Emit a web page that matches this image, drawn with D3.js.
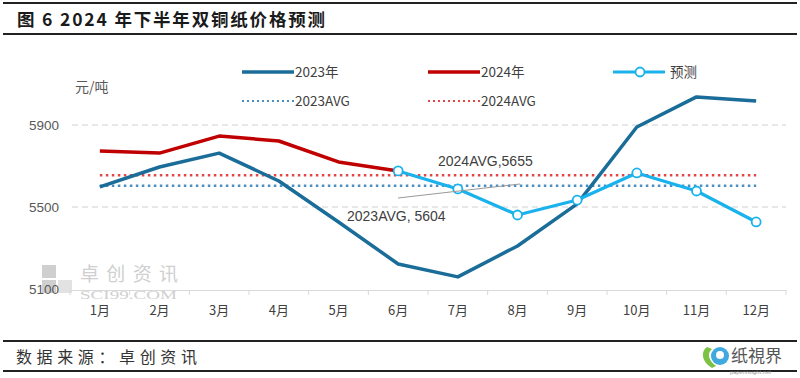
<!DOCTYPE html>
<html><head><meta charset="utf-8">
<script src="https://cdn.jsdelivr.net/npm/d3@7"></script>
<style>
html,body{margin:0;padding:0;background:#fff;}
svg{display:block;}
</style></head>
<body>
<svg id="c" width="800" height="378"></svg>
<script>
const months = ["1月","2月","3月","4月","5月","6月","7月","8月","9月","10月","11月","12月"];
const s2023 = [5598,5695,5763,5627,5427,5222,5159,5310,5515,5890,6037,6017];
const s2024 = [5773,5763,5846,5822,5720,5676,null,null,null,null,null,null];
const sForecast = [null,null,null,null,null,5676,5588,5461,5534,5666,5578,5427];
const avg2023 = 5604;
const avg2024 = 5655;
const yTicks = [5100,5500,5900];
const gridTicks = [5500,5900];

const svg = d3.select("#c");
const CJK = "'Noto Sans CJK SC','Noto Sans',sans-serif";
const x = d3.scaleBand().domain(months).range([70,786]);
const cx = m => x(m) + x.bandwidth()/2;
const y = d3.scaleLinear().domain([5100,5900]).range([289,125]);

// frame lines
svg.append("line").attr("x1",3).attr("x2",797).attr("y1",3).attr("y2",3).attr("stroke","#222").attr("stroke-width",2);
svg.append("line").attr("x1",3).attr("x2",797).attr("y1",34).attr("y2",34).attr("stroke","#222").attr("stroke-width",2);
svg.append("line").attr("x1",3).attr("x2",797).attr("y1",341).attr("y2",341).attr("stroke","#222").attr("stroke-width",2);
svg.append("line").attr("x1",3).attr("x2",797).attr("y1",371).attr("y2",371).attr("stroke","#222").attr("stroke-width",2);

svg.append("text").attr("x",17).attr("y",26).attr("font-family",CJK).attr("font-weight","bold")
  .attr("font-size",17.5).attr("fill","#1a1a1a").attr("textLength",308).attr("lengthAdjust","spacing")
  .text("图 6 2024 年下半年双铜纸价格预测");
svg.append("text").attr("x",16).attr("y",363).attr("font-family",CJK)
  .attr("font-size",16).attr("fill","#333").attr("textLength",181).attr("lengthAdjust","spacing").text("数据来源：卓创资讯");

// footer logo
const lg = svg.append("g");
lg.append("path").attr("d","M707,347 C700,352 702,362 712,368 L716,366 C708,360 707,353 712,349 Z").attr("fill","#7cc242");
lg.append("circle").attr("cx",720).attr("cy",356).attr("r",9).attr("fill","#3fa9e0");
lg.append("circle").attr("cx",720).attr("cy",355).attr("r",4).attr("fill","#fff");
lg.append("text").attr("x",731).attr("y",362).attr("font-family",CJK).attr("font-size",17).attr("fill","#555").text("纸視界");
lg.append("text").attr("x",730).attr("y",374).attr("font-family","'DejaVu Sans',sans-serif").attr("font-size",5).attr("fill","#888").text("paperinsight.net");

// watermark
const wm = svg.append("g");
wm.append("rect").attr("x",42).attr("y",265).attr("width",14).attr("height",13).attr("fill","#cfcfcf");
wm.append("rect").attr("x",42).attr("y",280).attr("width",14).attr("height",13).attr("fill","#cfcfcf");
wm.append("rect").attr("x",58).attr("y",280).attr("width",14).attr("height",13).attr("fill","#e2e2e2");
wm.append("text").attr("x",80).attr("y",281).attr("font-family",CJK).attr("font-size",19).attr("fill","#d0d0d0")
  .attr("textLength",98).attr("lengthAdjust","spacing").text("卓创资讯");
wm.append("text").attr("x",80).attr("y",299).attr("font-family","'Liberation Serif',serif").attr("font-size",11.5).attr("fill","#d0d0d0")
  .attr("textLength",97).attr("lengthAdjust","spacingAndGlyphs").text("SCI99.COM");

// grid
svg.append("g").selectAll("line").data(gridTicks).join("line")
  .attr("x1",72).attr("x2",786).attr("y1",d=>y(d)).attr("y2",d=>y(d))
  .attr("stroke","#d0d0d0").attr("stroke-width",1).attr("stroke-dasharray","6,4");

// y labels
svg.append("g").selectAll("text").data(yTicks).join("text")
  .attr("x",59).attr("y",d=>y(d)+5).attr("text-anchor","end")
  .attr("font-family","'Liberation Sans',sans-serif").attr("font-size",13.5).attr("fill","#595959").text(d=>d);
svg.append("text").attr("x",75).attr("y",92).attr("font-family",CJK).attr("font-size",14).attr("fill","#595959").text("元/吨");

// x axis
const xAxis = d3.axisBottom(x).tickSizeOuter(0).tickSizeInner(0).tickPadding(16);
const gx = svg.append("g").attr("transform","translate(0,290)").call(xAxis);
gx.select(".domain").attr("stroke","#d9d9d9");
gx.selectAll("text").attr("font-family",CJK).attr("font-size",13).attr("fill","#404040");
const bounds = months.map(m=>x(m)).concat([x(months[11])+x.bandwidth()]);
gx.selectAll(".bt").data(bounds).join("line").attr("class","bt")
  .attr("x1",d=>d).attr("x2",d=>d).attr("y1",0).attr("y2",5).attr("stroke","#d9d9d9");

// avg lines
const avgLine = (v,col) => svg.append("line").attr("x1",cx(months[0])).attr("x2",cx(months[11]))
  .attr("y1",y(v)).attr("y2",y(v)).attr("stroke",col).attr("stroke-width",2.5).attr("stroke-dasharray","2.5,3.5");
avgLine(avg2024,"#e04848");
avgLine(avg2023,"#4a8fc2");

const line = d3.line().defined(d=>d.v!=null).x(d=>cx(d.m)).y(d=>y(d.v));
const mk = arr => months.map((m,i)=>({m,v:arr[i]}));

svg.append("path").datum(mk(s2023)).attr("d",line).attr("fill","none").attr("stroke","#1b6d99").attr("stroke-width",3.5).attr("stroke-linejoin","round");
svg.append("path").datum(mk(s2024)).attr("d",line).attr("fill","none").attr("stroke","#c00000").attr("stroke-width",3.5).attr("stroke-linejoin","round");
svg.append("path").datum(mk(sForecast)).attr("d",line).attr("fill","none").attr("stroke","#1ab2ec").attr("stroke-width",3.2).attr("stroke-linejoin","round");
svg.append("g").selectAll("circle").data(mk(sForecast).filter(d=>d.v!=null)).join("circle")
  .attr("cx",d=>cx(d.m)).attr("cy",d=>y(d.v)).attr("r",4.5).attr("fill","#fff").attr("stroke","#1ab2ec").attr("stroke-width",1.8);

// annotations
svg.append("line").attr("x1",398).attr("y1",198).attr("x2",520).attr("y2",184).attr("stroke","#999").attr("stroke-width",1);
svg.append("text").attr("x",438).attr("y",166).attr("font-family","'Liberation Sans',sans-serif").attr("font-size",14).attr("fill","#404040").text("2024AVG,"+avg2024);
svg.append("text").attr("x",347).attr("y",221).attr("font-family","'Liberation Sans',sans-serif").attr("font-size",14).attr("fill","#404040").text("2023AVG, "+avg2023);

// legend
const leg = [
  {label:"2023年", x:242, y:72, col:"#1b6d99", dash:null, w:3.5},
  {label:"2024年", x:428, y:72, col:"#c00000", dash:null, w:3.5},
  {label:"预测", x:613, y:72, col:"#1ab2ec", dash:null, w:3.2, marker:true},
  {label:"2023AVG", x:242, y:101, col:"#4a8fc2", dash:"2,3", w:2},
  {label:"2024AVG", x:428, y:101, col:"#e04848", dash:"2,3", w:2}
];
const lgG = svg.append("g").selectAll("g").data(leg).join("g");
lgG.append("line").attr("x1",d=>d.x).attr("x2",d=>d.x+52).attr("y1",d=>d.y).attr("y2",d=>d.y)
  .attr("stroke",d=>d.col).attr("stroke-width",d=>d.w).attr("stroke-dasharray",d=>d.dash);
lgG.filter(d=>d.marker).append("circle").attr("cx",d=>d.x+27).attr("cy",d=>d.y).attr("r",4.5)
  .attr("fill","#fff").attr("stroke",d=>d.col).attr("stroke-width",1.8);
lgG.append("text").attr("x",d=>d.x+(d.marker?57:53)).attr("y",d=>d.y+5)
  .attr("font-family",CJK).attr("font-size",13.5).attr("fill","#404040").text(d=>d.label);
</script>
</body></html>
